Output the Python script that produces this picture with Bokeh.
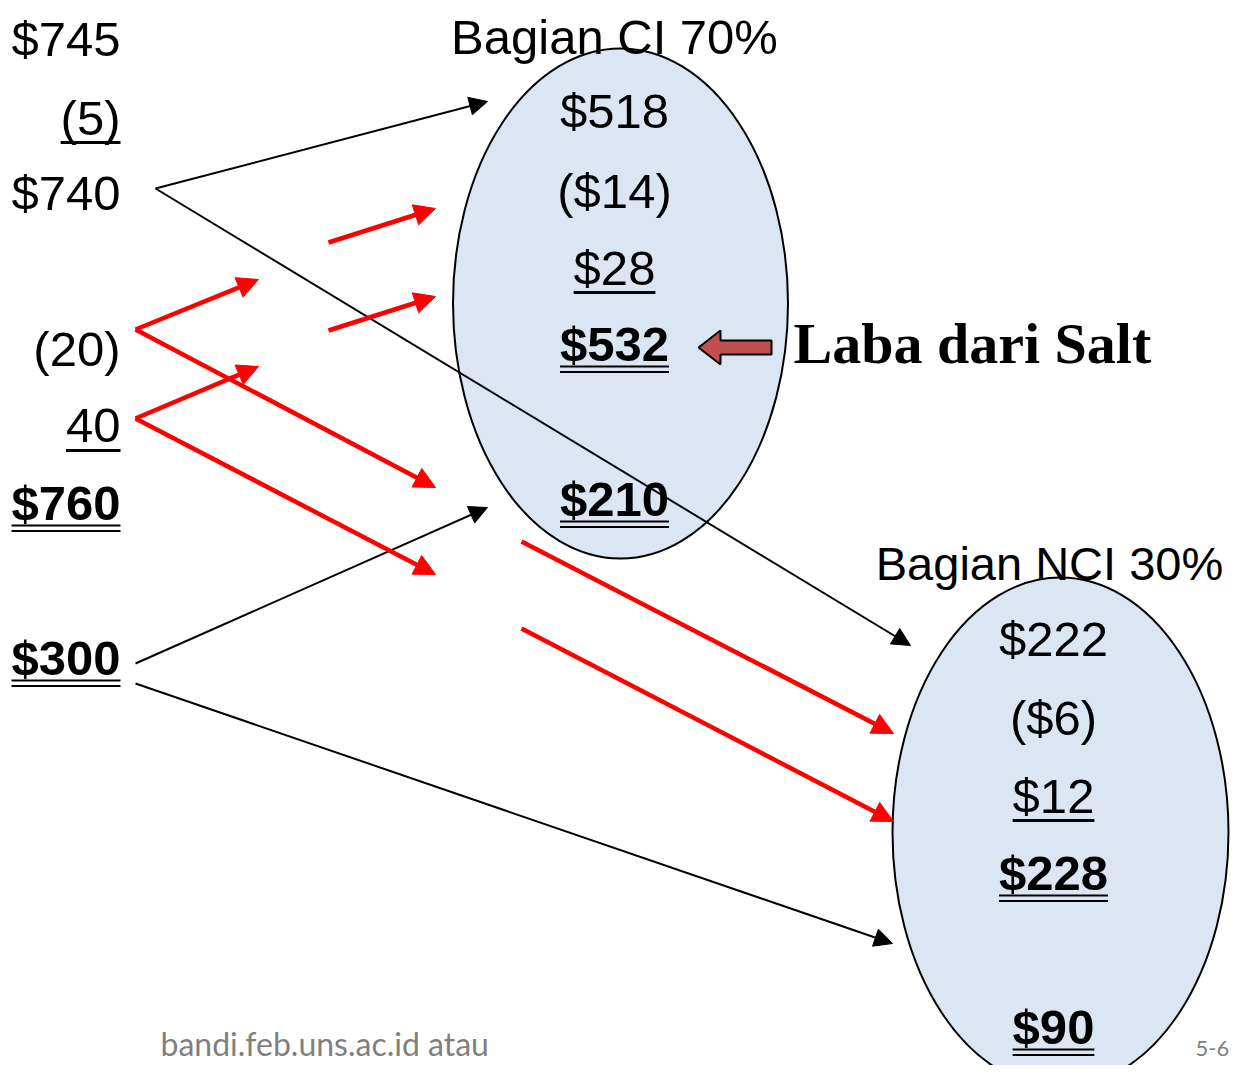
import subprocess
from bokeh.plotting import figure
from bokeh.models import Range1d, Arrow, NormalHead
from bokeh.core.properties import value
from bokeh.embed import file_html
from bokeh.resources import INLINE

try:
    _fonts = subprocess.run(["fc-list", ":", "family"], capture_output=True, text=True).stdout
except Exception:
    _fonts = ""
HAS_NARROW = "Liberation Sans Narrow" in _fonts
if HAS_NARROW:
    NUM_FONT, FS, DIG, PAR = "Liberation Sans Narrow", 54, 0.456, 0.273
else:
    NUM_FONT, FS, DIG, PAR = "Liberation Sans", 49, 0.556, 0.333

# ---- data ----
left_labels = ["$745", "(5)", "$740", "(20)", "40", "$760", "$300"]
left_y = [38, 117, 192, 348, 425, 502, 657]
left_under = [0, 1, 0, 0, 1, 2, 2]
left_bold = [0, 0, 0, 0, 0, 1, 1]

ci_title = "Bagian CI 70%"
ci_labels = ["$518", "($14)", "$28", "$532", "$210"]
ci_y = [110, 190, 267, 343, 498]
ci_under = [0, 0, 1, 2, 2]
ci_bold = [0, 0, 0, 1, 1]

nci_title = "Bagian NCI 30%"
nci_labels = ["$222", "($6)", "$12", "$228", "$90"]
nci_y = [638, 717, 795, 872, 1026]
nci_under = [0, 0, 1, 2, 2]
nci_bold = [0, 0, 0, 1, 1]

note_label = "Laba dari Salt"
footer_label = "bandi.feb.uns.ac.id atau"
page_label = "5-6"

# flows (start -> end)
black_x0 = [155, 155, 135, 135]
black_y0 = [188, 188, 663, 683]
black_x1 = [487, 910, 487, 892]
black_y1 = [101, 645, 507, 943]

red_x0 = [328, 328, 135, 135, 135, 135, 521, 521]
red_y0 = [242, 330, 329, 418, 329, 418, 541, 628]
red_x1 = [435, 435, 258, 258, 435, 435, 893, 893]
red_y1 = [208, 296, 279, 366, 487, 574, 733, 821]

# ---- figure (data units = reference pixels) ----
p = figure(width=1231, height=1065, output_backend="svg", toolbar_location=None,
           x_range=Range1d(0, 1231), y_range=Range1d(1065, 0), min_border=0)
p.axis.visible = False
p.grid.visible = False
p.outline_line_color = None
p.background_fill_color = "white"

# ellipses
p.ellipse(x=[620, 1060], y=[303, 832], width=[335, 336], height=[510, 510],
          fill_color="#dce6f2", line_color="black", line_width=2)


def text_w(s, fs):
    w = 0
    for c in s:
        w += (PAR if c in "()" else DIG) * fs
    return w


def draw_col(labels, ys, under, bold, x, align, fs=FS):
    for lab, y, u, b in zip(labels, ys, under, bold):
        p.text(x=[x], y=[y], text=[lab], text_font=value(NUM_FONT),
               text_font_size=f"{fs}px", text_align=align, text_baseline="middle",
               text_font_style="bold" if b else "normal", text_color="black")
        w = text_w(lab, fs)
        xs = [x - w, x] if align == "right" else [x - w / 2, x + w / 2]
        if u == 1:
            p.line(xs, [y + 25, y + 25], line_color="black", line_width=3)
        elif u == 2:
            p.line(xs, [y + 23, y + 23], line_color="black", line_width=2)
            p.line(xs, [y + 28.5, y + 28.5], line_color="black", line_width=2)


for i in range(len(black_x0)):
    p.add_layout(Arrow(end=NormalHead(size=18, fill_color="black", line_color="black"),
                       x_start=black_x0[i], y_start=black_y0[i],
                       x_end=black_x1[i], y_end=black_y1[i],
                       line_color="black", line_width=2))
for i in range(len(red_x0)):
    p.add_layout(Arrow(end=NormalHead(size=21, fill_color="red", line_color="red"),
                       x_start=red_x0[i], y_start=red_y0[i],
                       x_end=red_x1[i], y_end=red_y1[i],
                       line_color="red", line_width=4.5))

draw_col(left_labels, left_y, left_under, left_bold, 120, "right")
draw_col(ci_labels, ci_y, ci_under, ci_bold, 614, "center")
draw_col(nci_labels, nci_y, nci_under, nci_bold, 1053, "center")

p.text(x=[614], y=[36], text=[ci_title], text_font=value(NUM_FONT), text_font_size=f"{FS}px",
       text_align="center", text_baseline="middle", text_color="black")
p.text(x=[1049], y=[563], text=[nci_title], text_font=value(NUM_FONT),
       text_font_size=f"{FS - 2}px",
       text_align="center", text_baseline="middle", text_color="black")

# block arrow pointing at $532
p.patch(x=[698, 720, 720, 771, 771, 720, 720], y=[347, 330, 340, 340, 354, 354, 364],
        fill_color="#c0504d", line_color="black", line_width=2)
p.text(x=[793], y=[343], text=[note_label], text_font=value("Liberation Serif"),
       text_font_size="58px", text_font_style="bold", text_align="left",
       text_baseline="middle", text_color="black")

p.text(x=[160], y=[1043], text=[footer_label], text_font=value("Lato"),
       text_font_size="32px", text_align="left", text_baseline="middle", text_color="#7f7f7f")
p.text(x=[1195], y=[1048], text=[page_label], text_font=value("Lato"),
       text_font_size="22px", text_align="left", text_baseline="middle", text_color="#7f7f7f")

open("out.html", "w").write(file_html(p, INLINE))
